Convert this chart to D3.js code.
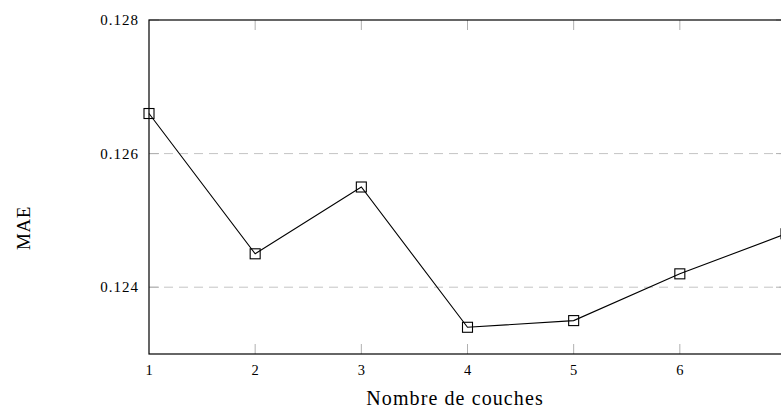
<!DOCTYPE html>
<html>
<head>
<meta charset="utf-8">
<script src="https://cdn.jsdelivr.net/npm/d3@7"></script>
<style>
  body { margin: 0; background: #fff; }
  text { font-family: "Liberation Serif", "DejaVu Serif", serif; fill: #000; }
</style>
</head>
<body>
<svg id="chart" width="781" height="412"></svg>
<script>
// values
var layers = [1, 2, 3, 4, 5, 6, 7];
var mae = [0.1266, 0.1245, 0.1255, 0.1234, 0.1235, 0.1242, 0.1248];
var yTicks = [0.124, 0.126, 0.128];
var xTicks = [1, 2, 3, 4, 5, 6, 7];

var W = 781;
var svg = d3.select("#chart");
var plotL = 149, plotR = 786, plotT = 20, plotB = 354;

var x = d3.scaleLinear().domain([1, 7]).range([plotL, plotR]);
var y = d3.scaleLinear().domain([0.123, 0.128]).range([plotB, plotT]);

// dashed grid
svg.selectAll("line.grid")
  .data(yTicks.filter(function (d) { return d < 0.128; }))
  .enter().append("line")
    .attr("x1", plotL).attr("x2", plotR)
    .attr("y1", function (d) { return y(d); })
    .attr("y2", function (d) { return y(d); })
    .style("stroke", "#c4c4c4")
    .style("stroke-width", 1)
    .style("stroke-dasharray", "9,6");

// inward ticks, grey
var tickLen = 10;
xTicks.forEach(function (t) {
  if (t === 1) return;
  svg.append("line").attr("x1", x(t)).attr("x2", x(t))
    .attr("y1", plotB).attr("y2", plotB - tickLen)
    .style("stroke", "#b0b0b0");
  svg.append("line").attr("x1", x(t)).attr("x2", x(t))
    .attr("y1", plotT).attr("y2", plotT + tickLen)
    .style("stroke", "#b0b0b0");
});
yTicks.forEach(function (t) {
  svg.append("line").attr("x1", plotL).attr("x2", plotL + tickLen)
    .attr("y1", y(t)).attr("y2", y(t))
    .style("stroke", "#b0b0b0");
  svg.append("line").attr("x1", plotR).attr("x2", plotR - tickLen)
    .attr("y1", y(t)).attr("y2", y(t))
    .style("stroke", "#b0b0b0");
});

// frame
svg.append("rect")
  .attr("x", plotL).attr("y", plotT)
  .attr("width", plotR - plotL).attr("height", plotB - plotT)
  .style("fill", "none")
  .style("stroke", "#000")
  .style("stroke-width", 1.2);

// tick labels (the 7 falls outside the window)
svg.selectAll("text.xt")
  .data(xTicks.filter(function (d) { return x(d) < W; }))
  .enter().append("text")
    .attr("x", function (d) { return x(d); })
    .attr("y", 375)
    .attr("text-anchor", "middle")
    .style("font-size", "14.5px")
    .text(function (d) { return d; });

svg.selectAll("text.yt")
  .data(yTicks)
  .enter().append("text")
    .attr("x", 139)
    .attr("y", function (d) { return y(d) + 5; })
    .attr("text-anchor", "end")
    .style("font-size", "15px")
    .style("letter-spacing", "1px")
    .text(function (d) { return d3.format(".3f")(d); });

// axis titles
svg.append("text")
  .attr("x", 455).attr("y", 405)
  .attr("text-anchor", "middle")
  .style("font-size", "20px")
  .style("letter-spacing", "1.1px")
  .text("Nombre de couches");

svg.append("text")
  .attr("transform", "translate(30,228) rotate(-90)")
  .attr("text-anchor", "middle")
  .style("font-size", "19px")
  .style("letter-spacing", "0.6px")
  .text("MAE");

// series
var line = d3.line()
  .x(function (d, i) { return x(layers[i]); })
  .y(function (d) { return y(d); });

svg.append("path")
  .datum(mae)
  .attr("d", line)
  .style("fill", "none")
  .style("stroke", "#000")
  .style("stroke-width", 1.1);

var sq = 10;
svg.selectAll("rect.mk")
  .data(mae)
  .enter().append("rect")
    .attr("x", function (d, i) { return x(layers[i]) - sq / 2; })
    .attr("y", function (d) { return y(d) - sq / 2; })
    .attr("width", sq).attr("height", sq)
    .style("fill", "none")
    .style("stroke", "#000")
    .style("stroke-width", 1.1);
</script>
</body>
</html>
